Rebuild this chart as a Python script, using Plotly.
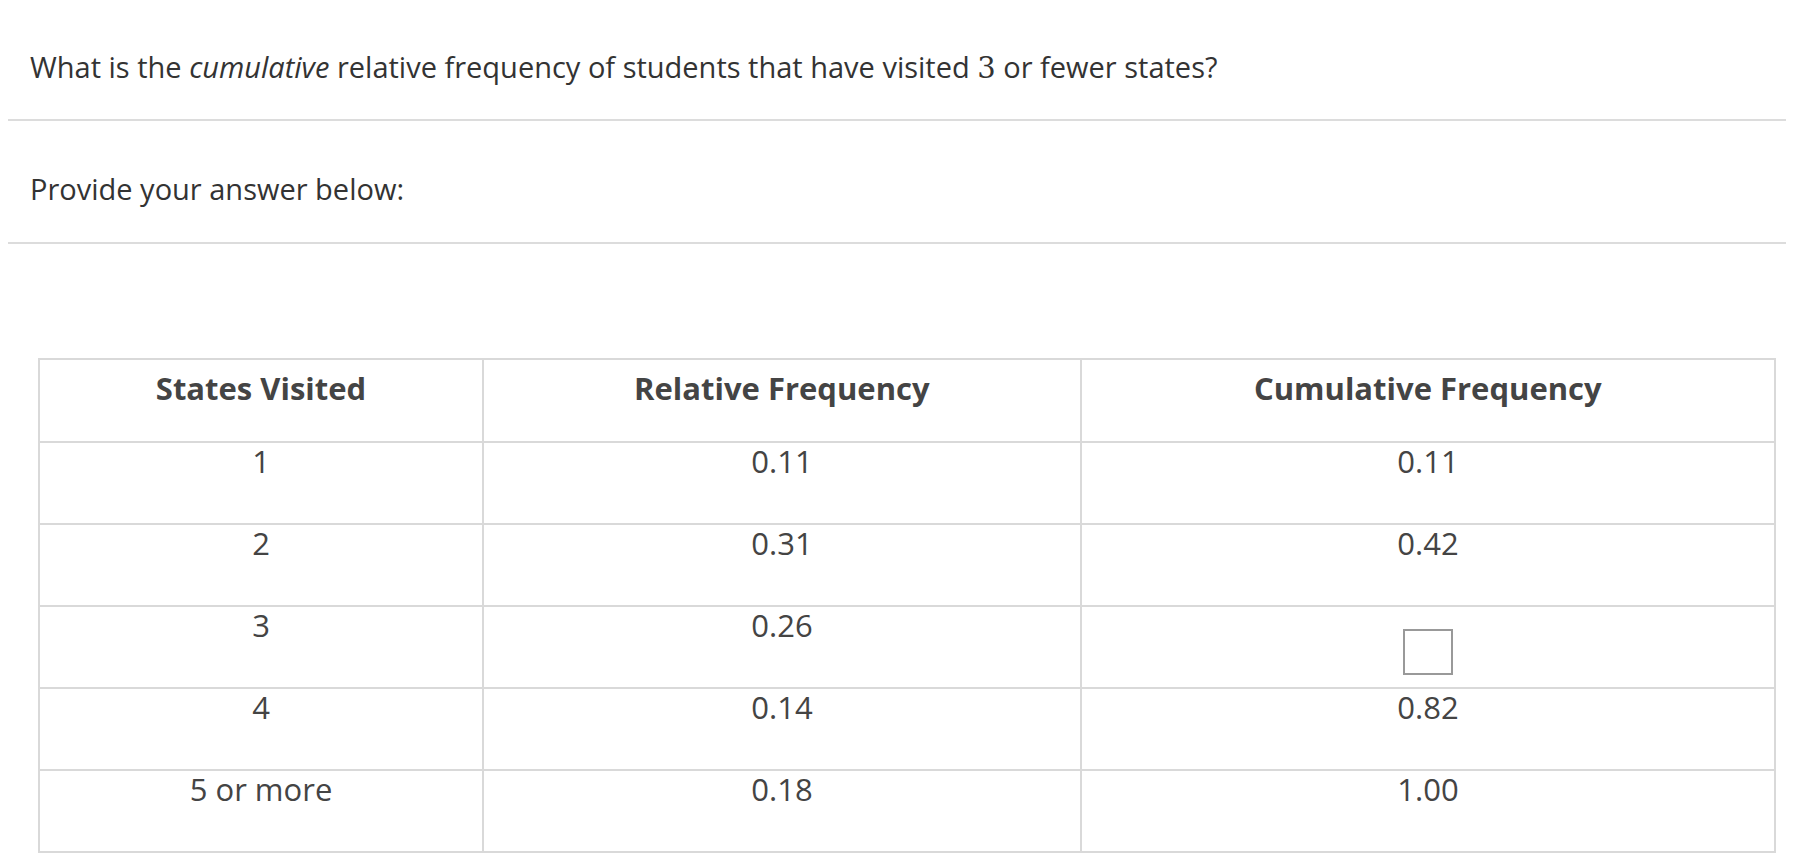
import plotly.graph_objects as go

# Datos de la tabla
states = ["1", "2", "3", "4", "5 or more"]
relative = ["0.11", "0.31", "0.26", "0.14", "0.18"]
cumulative = ["0.11", "0.42", "", "0.82", "1.00"]
headers = ["<b>States Visited</b>", "<b>Relative Frequency</b>", "<b>Cumulative Frequency</b>"]

W, H = 1794, 864
font = "Open Sans"

fig = go.Figure(go.Table(
    domain=dict(x=[31 / W, 1767 / W], y=[0, 1 - 351 / H]),
    columnwidth=[444, 598, 694],
    header=dict(values=headers, height=83, align="center",
                fill_color="white", line=dict(color="#d9d9d9", width=2),
                font=dict(family=font, size=31, color="#444")),
    cells=dict(values=[states, relative, cumulative], height=82, align="center",
               fill_color="white", line=dict(color="#d9d9d9", width=2),
               font=dict(family=font, size=31, color="#444")),
))

fig.add_annotation(
    x=20 / W, y=1 - 58 / H, xref="paper", yref="paper", xanchor="left", yanchor="middle",
    showarrow=False, font=dict(family=font, size=29, color="#333"),
    text="What is the <i>cumulative</i> relative frequency of students that have visited "
         "<span style='font-family:DejaVu Serif'>3</span> or fewer states?")
fig.add_annotation(
    x=20 / W, y=1 - 181 / H, xref="paper", yref="paper", xanchor="left", yanchor="middle",
    showarrow=False, font=dict(family=font, size=29, color="#333"),
    text="Provide your answer below:")

for yy in [112, 235]:
    fig.add_shape(type="line", xref="paper", yref="paper", x0=0, x1=1,
                  y0=1 - yy / H, y1=1 - yy / H, line=dict(color="#dcdcdc", width=2))

# casilla de respuesta
fig.add_shape(type="rect", xref="paper", yref="paper",
              x0=1396 / W, x1=1444 / W, y0=1 - 666 / H, y1=1 - 622 / H,
              line=dict(color="#999", width=2), fillcolor="white")

fig.update_layout(width=W, height=H, margin=dict(l=0, r=0, t=0, b=0),
                  paper_bgcolor="white", plot_bgcolor="white")

fig.write_html("out.html")
